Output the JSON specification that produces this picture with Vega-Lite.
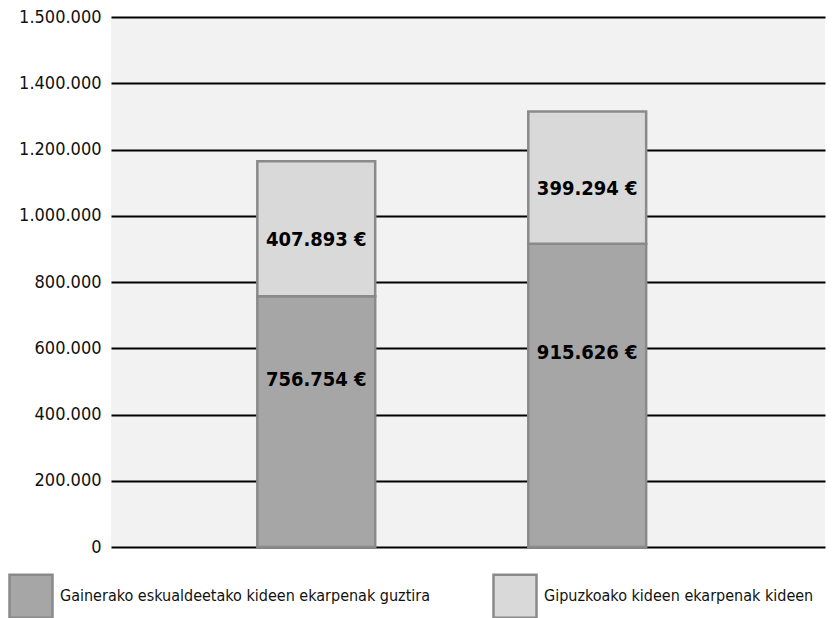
{
  "$schema": "https://vega.github.io/schema/vega-lite/v6.json",
  "width": 714,
  "height": 530,
  "autosize": {"type": "none"},
  "padding": {"left": 111, "top": 17, "right": 14, "bottom": 71},
  "background": "white",
  "config": {
    "locale": {"number": {"decimal": ",", "thousands": ".", "grouping": [3], "currency": ["", " €"]}},
    "view": {"fill": "#f2f2f2", "stroke": null},
    "font": "'DejaVu Sans Condensed', 'Liberation Sans Narrow', Roboto"
  },
  "data": {
    "values": [
      {"cat": "1", "serie": "Gainerako eskualdeetako kideen ekarpenak guztira", "value": 756754},
      {"cat": "1", "serie": "Gipuzkoako kideen ekarpenak kideen", "value": 407893},
      {"cat": "2", "serie": "Gainerako eskualdeetako kideen ekarpenak guztira", "value": 915626},
      {"cat": "2", "serie": "Gipuzkoako kideen ekarpenak kideen", "value": 399294}
    ]
  },
  "layer": [
    {
      "mark": {"type": "bar", "stroke": "#8a8a8a", "strokeWidth": 2.5},
      "encoding": {
        "x": {"field": "cat", "type": "nominal", "scale": {"paddingInner": 0.565, "paddingOuter": 0.6, "align": 0.45}, "axis": null},
        "y": {
          "field": "value", "type": "quantitative", "stack": "zero", "title": null,
          "scale": {"domain": [0, 1600000], "nice": false},
          "axis": {
            "values": [0, 200000, 400000, 600000, 800000, 1000000, 1200000, 1400000, 1600000],
            "format": ",.0f",
            "labelExpr": "datum.value == 1600000 ? '1.500.000' : datum.label",
            "grid": true, "gridColor": "#000000", "gridWidth": 2.2,
            "domain": false, "ticks": false,
            "labelFont": "'DejaVu Sans Condensed', 'Liberation Sans Narrow', Roboto", "labelFontSize": 18, "labelColor": "#111111", "labelPadding": 10,
            "title": null
          }
        },
        "color": {
          "field": "serie", "type": "nominal",
          "scale": {"range": ["#a6a6a6", "#d9d9d9"]},
          "legend": {
            "orient": "none", "legendX": -103, "legendY": 556, "direction": "horizontal", "title": null,
            "symbolType": "square", "symbolSize": 1850, "symbolStrokeColor": "#8a8a8a", "symbolStrokeWidth": 2.5,
            "labelFont": "'DejaVu Sans Condensed', 'Liberation Sans Narrow', Roboto", "labelFontSize": 16, "labelColor": "#111111", "labelLimit": 0,
            "columnPadding": 57, "labelOffset": 6
          }
        },
        "order": {"field": "serie", "sort": "ascending"}
      }
    },
    {
      "transform": [
        {"stack": "value", "groupby": ["cat"], "sort": [{"field": "serie", "order": "ascending"}], "as": ["v0", "v1"]},
        {"filter": "datum.serie == 'Gainerako eskualdeetako kideen ekarpenak guztira'"},
        {"fold": ["v0", "v1"], "as": ["edge", "pos"]}
      ],
      "mark": {"type": "text", "fontWeight": "bold", "fontSize": 20, "dy": -42, "color": "#000000", "font": "'DejaVu Sans Condensed', 'Liberation Sans Narrow', Roboto"},
      "encoding": {
        "x": {"field": "cat", "type": "nominal"},
        "y": {"aggregate": "mean", "field": "pos", "type": "quantitative", "title": null},
        "text": {"aggregate": "max", "field": "value", "type": "quantitative", "format": "$,.0f"}
      }
    },
    {
      "transform": [
        {"stack": "value", "groupby": ["cat"], "sort": [{"field": "serie", "order": "ascending"}], "as": ["v0", "v1"]},
        {"filter": "datum.serie == 'Gipuzkoako kideen ekarpenak kideen'"},
        {"fold": ["v0", "v1"], "as": ["edge", "pos"]}
      ],
      "mark": {"type": "text", "fontWeight": "bold", "fontSize": 20, "dy": 11, "color": "#000000", "font": "'DejaVu Sans Condensed', 'Liberation Sans Narrow', Roboto"},
      "encoding": {
        "x": {"field": "cat", "type": "nominal"},
        "y": {"aggregate": "mean", "field": "pos", "type": "quantitative", "title": null},
        "text": {"aggregate": "max", "field": "value", "type": "quantitative", "format": "$,.0f"}
      }
    }
  ]
}
